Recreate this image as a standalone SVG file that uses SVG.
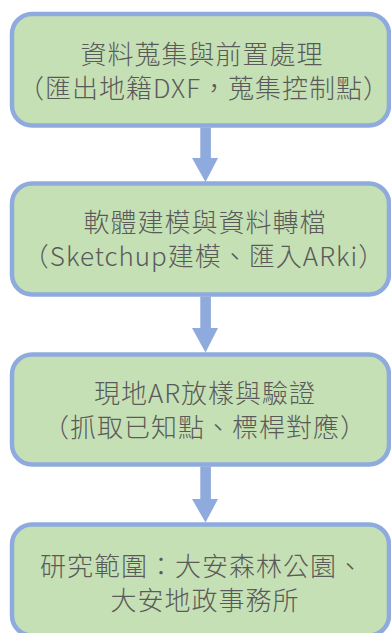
<svg xmlns="http://www.w3.org/2000/svg" width="391" height="633" viewBox="0 0 391 633">
<style>
.box{fill:#c5e0b4;stroke:#8faadc;stroke-width:4.5}
.t{font-family:"Noto Sans CJK TC","Noto Sans",sans-serif;font-size:26px;letter-spacing:1px;fill:#5a5a5a;text-anchor:middle;font-weight:300}
.c{fill:#8faadc}
</style>
<rect width="391" height="633" fill="#ffffff"/>
<g id="n1">
<rect class="box" x="12" y="14" width="377" height="111.5" rx="20"/>
<text class="t" x="202" y="64">資料蒐集與前置處理</text>
<text class="t" x="204" y="98">（匯出地籍DXF，蒐集控制點）</text>
</g>
<g id="n2">
<rect class="box" x="12" y="183.5" width="377" height="111" rx="20"/>
<text class="t" x="205" y="232">軟體建模與資料轉檔</text>
<text class="t" x="204" y="266">（Sketchup建模、匯入ARki）</text>
</g>
<g id="n3">
<rect class="box" x="12" y="354.5" width="377" height="110" rx="20"/>
<text class="t" x="205" y="403">現地AR放樣與驗證</text>
<text class="t" x="205" y="437">（抓取已知點、標桿對應）</text>
</g>
<g id="n4">
<rect class="box" x="12" y="524.5" width="377" height="111" rx="20"/>
<text class="t" x="202" y="576">研究範圍：大安森林公園、</text>
<text class="t" x="205" y="610">大安地政事務所</text>
</g>
<g id="connectors">
<rect class="c" x="200.3" y="127.5" width="10.6" height="31"/>
<polygon class="c" points="192,158 218,158 205.5,182"/>
<rect class="c" x="200.3" y="296.5" width="10.6" height="32"/>
<polygon class="c" points="192,328 218,328 205.5,352.5"/>
<rect class="c" x="200.3" y="466.5" width="10.6" height="33"/>
<polygon class="c" points="192,499 218,499 205.5,522.5"/>
</g>
</svg>
